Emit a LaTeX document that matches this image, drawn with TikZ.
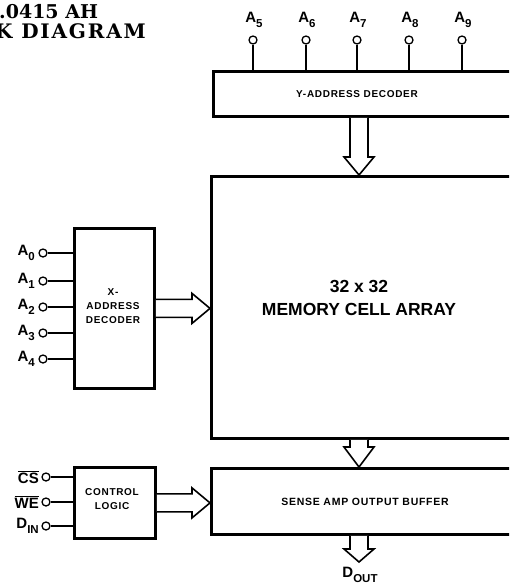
\documentclass[tikz,border=0pt]{standalone}
\usepackage{fontspec}
\setmainfont{Liberation Sans}
\newfontfamily\titlefont{DejaVu Serif}
\newfontfamily\widetitlefont[LetterSpace=9]{DejaVu Serif}
\newfontfamily\spacedfont[LetterSpace=7]{Liberation Sans}
\usetikzlibrary{calc,positioning}

\newcommand\pinsub[1]{\raisebox{-0.3em}{\fontsize{11.5}{11.5}\selectfont #1}}
% hollow block arrows (y axis points down, so -y is up)
\newcommand\fatdown[3][18]{%
  \draw[fatline] ($(#2)+(-9,0)$) -- ($(#3)+(-9,-#1)$) -- ($(#3)+(-15,-#1)$) -- (#3)
    -- ($(#3)+(15,-#1)$) -- ($(#3)+(9,-#1)$) -- ($(#2)+(9,0)$);}
\newcommand\fatright[3][18]{%
  \draw[fatline] ($(#2)+(0,-9)$) -- ($(#3)+(-#1,-9)$) -- ($(#3)+(-#1,-15)$) -- (#3)
    -- ($(#3)+(-#1,15)$) -- ($(#3)+(-#1,9)$) -- ($(#2)+(0,9)$);}

\begin{document}
\begin{tikzpicture}[x=1pt, y=-1pt]
    \tikzset{blockbox/.style={draw, line width=2.8pt, inner sep=0pt, anchor=north west}}
    \tikzset{pincircle/.style={circle, draw, line width=1.3pt, fill=white, minimum size=8pt, inner sep=0pt}}
    \tikzset{pinlbl/.style={font=\bfseries\fontsize{15}{17}\selectfont, inner sep=0pt}}
    \tikzset{boxtxt/.style={font=\spacedfont\bfseries\fontsize{10}{14}\selectfont, align=center, inner sep=0pt}}
    \tikzset{wire/.style={line width=1.6pt}}
    \tikzset{fatline/.style={line width=1.6pt, line join=miter, fill=white}}
    \useasboundingbox (0,0) rectangle (509,584);
    \clip (0,0) rectangle (509,584);

    % TITLE
    \node[font=\titlefont\bfseries\fontsize{19}{21}\selectfont, anchor=base west, inner sep=0pt] (title1) at (-1,18) {.0415 AH};
    \node[font=\widetitlefont\bfseries\fontsize{20}{22}\selectfont, anchor=base west, inner sep=0pt] (title2) at (-5,38) {K DIAGRAM};

    % BLOCKS
    \node[blockbox, minimum width=330pt, minimum height=45pt] (ydec) at (212,70) {};
    \node[blockbox, minimum width=330pt, minimum height=262pt] (mem) at (210,175) {};
    \node[blockbox, minimum width=330pt, minimum height=66pt] (samp) at (210,467) {};
    \node[blockbox, minimum width=80pt, minimum height=160pt] (xdec) at (73,227) {};
    \node[blockbox, minimum width=81pt, minimum height=71pt] (ctrl) at (73,466) {};

    % BLOCK TEXTS
    \node[boxtxt] (ydectxt) at (357,94) {Y-ADDRESS DECODER};
    \node[font=\bfseries\fontsize{17.5}{23}\selectfont, align=center] (memtxt) at (359,298) {32 x 32\\MEMORY CELL ARRAY};
    \node[boxtxt, font=\spacedfont\bfseries\fontsize{10.5}{14}\selectfont] (samptxt) at (365,502) {SENSE AMP OUTPUT BUFFER};
    \node[boxtxt, font=\spacedfont\bfseries\fontsize{10}{14}\selectfont] (xdectxt) at (113,306) {X-\\ADDRESS\\DECODER};
    \node[boxtxt, font=\spacedfont\bfseries\fontsize{10}{14.5}\selectfont] (ctrltxt) at (112,499) {CONTROL\\LOGIC};

    % Y ADDRESS PINS
    \foreach \n/\x in {5/253, 6/306, 7/357, 8/409, 9/462} {
        \node[pincircle] (p\n) at (\x,40) {};
        \node[pinlbl] (l\n) at (\x+1,20) {A\pinsub{\n}};
        \draw[wire] (p\n) -- (p\n |- ydec.north);
    }

    % X ADDRESS PINS
    \foreach \n/\y in {0/253, 1/281, 2/307, 3/333, 4/359} {
        \node[pincircle] (p\n) at (43,\y) {};
        \node[pinlbl, anchor=east] (l\n) at (35,\y) {A\pinsub{\n}};
        \draw[wire] (p\n) -- (p\n -| xdec.west);
    }

    % CONTROL PINS
    \node[pincircle] (pcs) at (46,477) {};
    \node[pincircle] (pwe) at (46,502) {};
    \node[pincircle] (pdin) at (46,526) {};
    \node[pinlbl, anchor=east] (lcs) at (39,477) {$\overline{\mbox{CS}}$};
    \node[pinlbl, anchor=east] (lwe) at (39,502) {$\overline{\mbox{WE}}$};
    \node[pinlbl, anchor=east] (ldin) at (39,526) {D\pinsub{IN}};
    \foreach \p in {pcs, pwe, pdin}
        \draw[wire] (\p) -- (\p -| ctrl.west);

    % BLOCK ARROWS
    \fatdown{ydec.south -| memtxt}{mem.north -| memtxt}
    \fatright{xdec.east}{mem.west |- xdec.east}
    \fatright{ctrl.east}{samp.west |- ctrl.east}
    \fatdown[20]{mem.south -| memtxt}{samp.north -| memtxt}
    \coordinate (douttip) at (359,562);
    \fatdown[13]{samp.south -| memtxt}{douttip}
    \node[pinlbl, anchor=north] (ldout) at (360,567) {D\pinsub{OUT}};
\end{tikzpicture}
\end{document}
